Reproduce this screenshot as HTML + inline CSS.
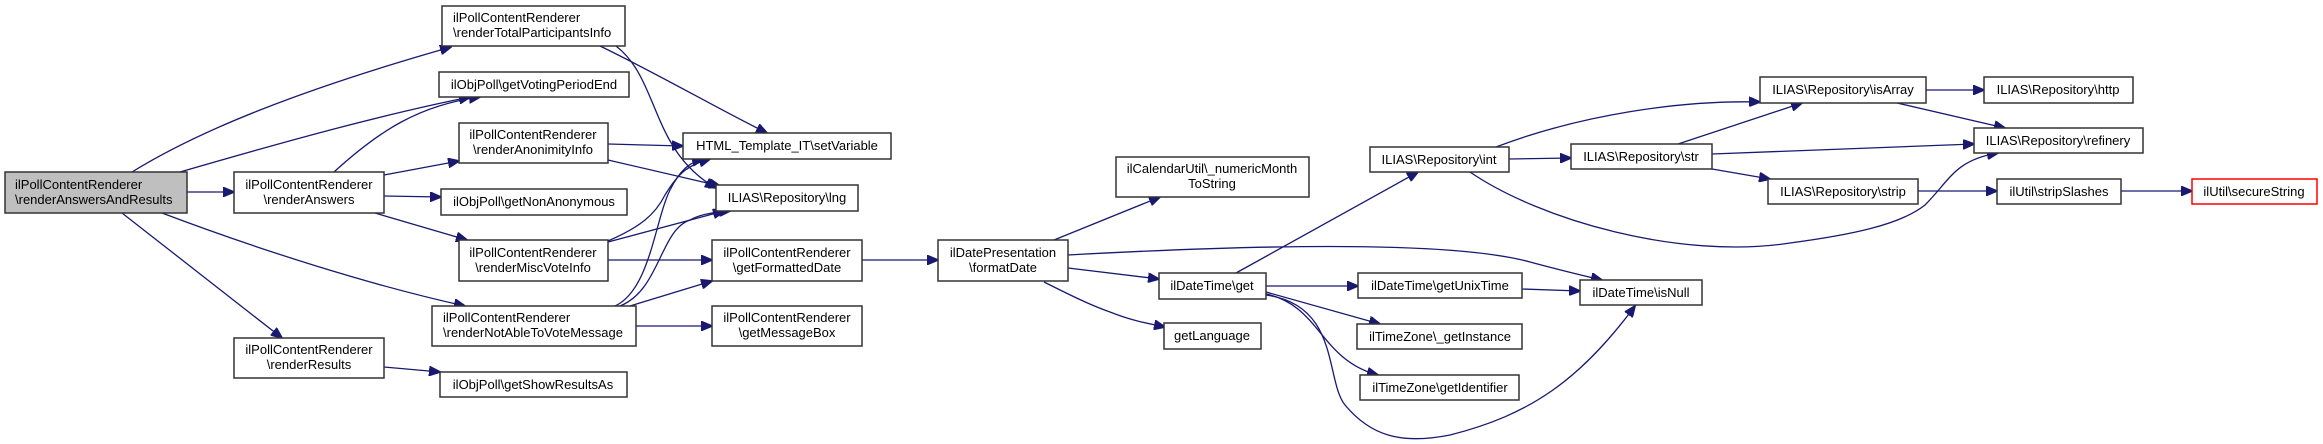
<!DOCTYPE html>
<html><head><meta charset="utf-8"><style>
html,body{margin:0;padding:0;background:#fff;width:2323px;height:444px;overflow:hidden}
svg text{font-family:"Liberation Sans",Arial,sans-serif;font-size:13px;fill:#000}
.b{fill:#fff;stroke:#333;stroke-width:1.5}
.e{fill:none;stroke:#191970;stroke-width:1.3}
</style></head><body>
<svg width="2323" height="444" viewBox="0 0 2323 444" xmlns="http://www.w3.org/2000/svg">
<defs><marker id="a" markerUnits="userSpaceOnUse" markerWidth="12" markerHeight="10" refX="11" refY="5" orient="auto"><path d="M0,0 L12,5 L0,10 z" fill="#191970" stroke="#191970"/></marker></defs>
<g marker-end="url(#a)">
<path class="e" d="M132,172 C200,130 300,90 451,47"/>
<path class="e" d="M180,172 C280,143 380,115 470,97"/>
<path class="e" d="M187,192 L234,192"/>
<path class="e" d="M162,213 C260,250 370,285 465,306"/>
<path class="e" d="M122,213 L282,338"/>
<path class="e" d="M334,172 C380,130 420,105 480,97"/>
<path class="e" d="M384,175 L459,161"/>
<path class="e" d="M384,196 L441,197"/>
<path class="e" d="M375,213 L467,240"/>
<path class="e" d="M384,367 L440,372"/>
<path class="e" d="M600,46 C660,75 720,110 767,133"/>
<path class="e" d="M616,46 C660,80 650,150 716,188"/>
<path class="e" d="M608,144 L683,146"/>
<path class="e" d="M608,160 L720,186"/>
<path class="e" d="M608,241 C640,227 655,215 665,195 C680,170 690,165 710,159"/>
<path class="e" d="M608,242 L724,211"/>
<path class="e" d="M608,260 L712,260"/>
<path class="e" d="M615,306 C650,290 655,220 670,190 C680,170 690,162 703,159"/>
<path class="e" d="M620,306 C660,290 660,230 690,220 C700,214 715,212 730,211"/>
<path class="e" d="M630,306 L712,281"/>
<path class="e" d="M636,326 L712,326"/>
<path class="e" d="M862,260 L938,260"/>
<path class="e" d="M1054,240 L1160,197"/>
<path class="e" d="M1068,255 C1250,245 1450,240 1530,262 C1560,270 1580,275 1602,280"/>
<path class="e" d="M1068,268 L1159,279"/>
<path class="e" d="M1044,282 C1070,295 1090,305 1110,312 C1130,320 1145,323 1165,327"/>
<path class="e" d="M1236,273 L1418,172"/>
<path class="e" d="M1266,286 L1358,286"/>
<path class="e" d="M1266,292 L1380,324"/>
<path class="e" d="M1266,294 C1320,305 1320,360 1378,375"/>
<path class="e" d="M1266,295 C1340,305 1325,380 1345,405 C1370,435 1400,445 1450,435 C1530,415 1580,380 1635,306"/>
<path class="e" d="M1522,289 L1580,291"/>
<path class="e" d="M1496,147 C1580,115 1680,100 1760,102"/>
<path class="e" d="M1509,159 L1571,158"/>
<path class="e" d="M1470,172 C1540,220 1680,260 1790,243 C1850,235 1900,225 1925,205 C1950,180 1955,160 1998,153"/>
<path class="e" d="M1678,144 L1802,103"/>
<path class="e" d="M1712,154 L1974,144"/>
<path class="e" d="M1712,169 L1770,179"/>
<path class="e" d="M1926,90 L1984,90"/>
<path class="e" d="M1897,103 L2005,128"/>
<path class="e" d="M1918,191 L1997,191"/>
<path class="e" d="M2121,191 L2192,191"/>
</g>
<rect x="5" y="172" width="182" height="41" fill="#bfbfbf" stroke="#333" stroke-width="1.5"/>
<text x="15" y="189">ilPollContentRenderer</text><text x="15" y="204">\renderAnswersAndResults</text>
<rect class="b" x="442" y="6" width="183" height="40"/><text x="453" y="22">ilPollContentRenderer</text><text x="453" y="37">\renderTotalParticipantsInfo</text>
<rect class="b" x="439" y="72" width="190" height="25"/><text x="534" y="89" text-anchor="middle">ilObjPoll\getVotingPeriodEnd</text>
<rect class="b" x="459" y="123" width="149" height="40"/><text x="533" y="139" text-anchor="middle">ilPollContentRenderer</text><text x="533" y="154" text-anchor="middle">\renderAnonimityInfo</text>
<rect class="b" x="234" y="172" width="150" height="41"/><text x="309" y="189" text-anchor="middle">ilPollContentRenderer</text><text x="309" y="204" text-anchor="middle">\renderAnswers</text>
<rect class="b" x="441" y="189" width="186" height="26"/><text x="534" y="206" text-anchor="middle">ilObjPoll\getNonAnonymous</text>
<rect class="b" x="459" y="240" width="149" height="41"/><text x="533" y="257" text-anchor="middle">ilPollContentRenderer</text><text x="533" y="272" text-anchor="middle">\renderMiscVoteInfo</text>
<rect class="b" x="432" y="306" width="204" height="40"/><text x="443" y="322">ilPollContentRenderer</text><text x="443" y="337">\renderNotAbleToVoteMessage</text>
<rect class="b" x="234" y="338" width="150" height="40"/><text x="309" y="354" text-anchor="middle">ilPollContentRenderer</text><text x="309" y="369" text-anchor="middle">\renderResults</text>
<rect class="b" x="440" y="372" width="187" height="25"/><text x="533" y="389" text-anchor="middle">ilObjPoll\getShowResultsAs</text>
<rect class="b" x="683" y="133" width="208" height="26"/><text x="787" y="150" text-anchor="middle">HTML_Template_IT\setVariable</text>
<rect class="b" x="716" y="185" width="142" height="26"/><text x="787" y="202" text-anchor="middle">ILIAS\Repository\lng</text>
<rect class="b" x="712" y="240" width="150" height="41"/><text x="787" y="257" text-anchor="middle">ilPollContentRenderer</text><text x="787" y="272" text-anchor="middle">\getFormattedDate</text>
<rect class="b" x="712" y="306" width="150" height="40"/><text x="787" y="322" text-anchor="middle">ilPollContentRenderer</text><text x="787" y="337" text-anchor="middle">\getMessageBox</text>
<rect class="b" x="938" y="240" width="130" height="41"/><text x="1003" y="257" text-anchor="middle">ilDatePresentation</text><text x="1003" y="272" text-anchor="middle">\formatDate</text>
<rect class="b" x="1116" y="157" width="193" height="40"/><text x="1212" y="173" text-anchor="middle">ilCalendarUtil\_numericMonth</text><text x="1212" y="188" text-anchor="middle">ToString</text>
<rect class="b" x="1159" y="273" width="107" height="26"/><text x="1212" y="290" text-anchor="middle">ilDateTime\get</text>
<rect class="b" x="1164" y="323" width="97" height="26"/><text x="1212" y="340" text-anchor="middle">getLanguage</text>
<rect class="b" x="1370" y="147" width="139" height="25"/><text x="1439" y="164" text-anchor="middle">ILIAS\Repository\int</text>
<rect class="b" x="1571" y="144" width="141" height="25"/><text x="1641" y="161" text-anchor="middle">ILIAS\Repository\str</text>
<rect class="b" x="1760" y="77" width="166" height="26"/><text x="1843" y="94" text-anchor="middle">ILIAS\Repository\isArray</text>
<rect class="b" x="1984" y="77" width="149" height="26"/><text x="2058" y="94" text-anchor="middle">ILIAS\Repository\http</text>
<rect class="b" x="1974" y="128" width="169" height="25"/><text x="2058" y="145" text-anchor="middle">ILIAS\Repository\refinery</text>
<rect class="b" x="1768" y="179" width="150" height="25"/><text x="1843" y="196" text-anchor="middle">ILIAS\Repository\strip</text>
<rect class="b" x="1997" y="179" width="124" height="25"/><text x="2059" y="196" text-anchor="middle">ilUtil\stripSlashes</text>
<rect x="2192" y="179" width="125" height="25" fill="#fff" stroke="#ff0000" stroke-width="1.5"/><text x="2254" y="196" text-anchor="middle">ilUtil\secureString</text>
<rect class="b" x="1358" y="273" width="164" height="25"/><text x="1440" y="290" text-anchor="middle">ilDateTime\getUnixTime</text>
<rect class="b" x="1580" y="280" width="122" height="25"/><text x="1641" y="297" text-anchor="middle">ilDateTime\isNull</text>
<rect class="b" x="1357" y="324" width="165" height="25"/><text x="1440" y="341" text-anchor="middle">ilTimeZone\_getInstance</text>
<rect class="b" x="1360" y="375" width="159" height="25"/><text x="1440" y="392" text-anchor="middle">ilTimeZone\getIdentifier</text>
</svg>
</body></html>
